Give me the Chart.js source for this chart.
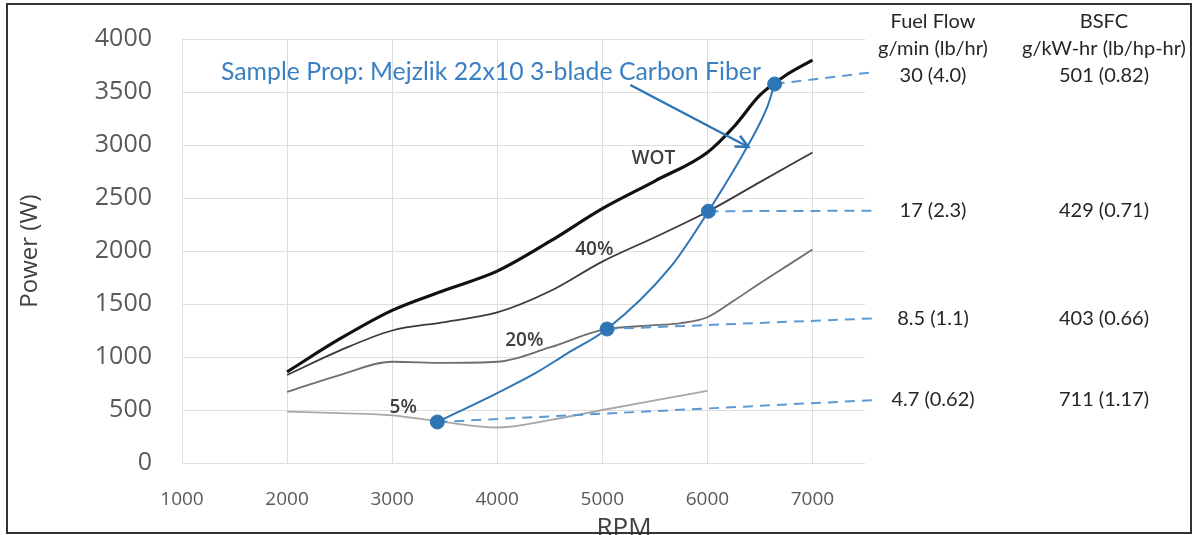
<!DOCTYPE html>
<html>
<head>
<meta charset="utf-8">
<script src="https://cdn.jsdelivr.net/npm/chart.js@4.4.0/dist/chart.umd.min.js"></script>
<style>
  html, body { margin: 0; padding: 0; background: #fff; }
  #wrap { position: relative; width: 1196px; height: 535px; }
</style>
</head>
<body>
<div id="wrap"><canvas id="powerChart" width="1196" height="535"></canvas></div>
<script>
  // throttle curves, power (W) vs RPM
  const loadRpm = [2000, 2500, 3000, 3500, 4000, 4500, 5000, 5500, 6000, 6500, 7000];
  const wotRpm = [2000, 2500, 3000, 3500, 4000, 4500, 5000, 5500, 6000, 6250, 6500, 6750, 7000];
  const wotPower = [860, 1170, 1440, 1630, 1810, 2090, 2400, 2660, 2930, 3170, 3470, 3660, 3800];
  const pct40Power = [830, 1060, 1250, 1330, 1420, 1620, 1900, 2130, 2370, 2650, 2930];
  const pct20Rpm = [2000, 2500, 3000, 3500, 4000, 4500, 5000, 5500, 5750, 6000, 6250, 6500, 6750, 7000];
  const pct20Power = [670, 830, 955, 945, 955, 1090, 1255, 1300, 1320, 1375, 1530, 1695, 1855, 2015];
  const pct5Rpm = [2000, 2500, 3000, 3500, 4000, 4500, 5000, 5500, 6000];
  const pct5Power = [485, 470, 450, 385, 335, 405, 500, 590, 680];

  // prop load line
  const propRpm = [3430, 4000, 4350, 4660, 5045, 5650, 6010, 6380, 6570, 6640];
  const propPower = [387, 660, 840, 1030, 1264, 1850, 2375, 2985, 3360, 3575];

  // operating points + table on the right
  const opRpm = [6640, 6010, 5045, 3430];
  const opPower = [3575, 2375, 1264, 387];
  const leaderEndRpm = 7600;
  const leaderEndPower = [3690, 2380, 1365, 594];
  const fuelFlow = ['30 (4.0)', '17 (2.3)', '8.5 (1.1)', '4.7 (0.62)'];
  const bsfc = ['501 (0.82)', '429 (0.71)', '403 (0.66)', '711 (1.17)'];

  const xTickValues = [1000, 2000, 3000, 4000, 5000, 6000, 7000];
  const curveNames = ['WOT', '40%', '20%', '5%'];
  const curveNameAt = [[5486, 2868], [4924, 2009], [4257, 1151], [3105, 519]];
  const propTitle = 'Sample Prop: Mejzlik 22x10 3-blade Carbon Fiber';
  const propArrow = [[5267, 3566], [6390, 2981]];

  const BLUE = '#2e75b6';
  const LIGHT_BLUE = '#5b9bd5';
  const TEXT = '#404040';

  const pts = (xs, ys) => ys.map((v, i) => ({ x: xs[i], y: v }));

  function curve(data, color, width) {
    return {
      data,
      showLine: true,
      borderColor: color,
      borderWidth: width,
      pointRadius: 0,
      cubicInterpolationMode: 'monotone',
      order: 3
    };
  }

  const datasets = [
    {
      data: pts(opRpm, opPower),
      backgroundColor: BLUE,
      borderColor: BLUE,
      pointRadius: 7,
      showLine: false,
      order: 0
    },
    curve(pts(propRpm, propPower), BLUE, 2),
    curve(pts(wotRpm, wotPower), '#111111', 3.2),
    curve(pts(loadRpm, pct40Power), '#3a3a3a', 1.8),
    curve(pts(pct20Rpm, pct20Power), '#6e6e6e', 1.8),
    curve(pts(pct5Rpm, pct5Power), '#a8a8a8', 1.8),
    {
      data: propArrow.map(p => ({ x: p[0], y: p[1] })),
      showLine: true,
      borderColor: BLUE,
      borderWidth: 2.5,
      pointRadius: 0,
      order: 1
    }
  ];

  opRpm.forEach((r, i) => {
    datasets.push({
      data: [{ x: r, y: opPower[i] }, { x: leaderEndRpm, y: leaderEndPower[i] }],
      showLine: true,
      borderColor: LIGHT_BLUE,
      borderWidth: 2,
      borderDash: [10, 7],
      pointRadius: 0,
      clip: false,
      order: 2
    });
  });

  const overlay = {
    id: 'overlay',
    afterDatasetsDraw(chart) {
      const { ctx, chartArea } = chart;
      const xs = chart.scales.x, ys = chart.scales.y;
      ctx.save();

      // curve names
      ctx.fillStyle = TEXT;
      ctx.font = '600 19px "Open Sans"';
      ctx.textAlign = 'center';
      ctx.textBaseline = 'middle';
      curveNames.forEach((t, i) => {
        ctx.fillText(t, xs.getPixelForValue(curveNameAt[i][0]), ys.getPixelForValue(curveNameAt[i][1]));
      });

      // prop title + arrow head
      ctx.fillStyle = '#3a80c2';
      ctx.font = '25px Lato';
      ctx.textAlign = 'left';
      ctx.fillText(propTitle, 221, ys.getPixelForValue(3690), 540);

      const ax0 = xs.getPixelForValue(propArrow[0][0]), ay0 = ys.getPixelForValue(propArrow[0][1]);
      const ax1 = xs.getPixelForValue(propArrow[1][0]), ay1 = ys.getPixelForValue(propArrow[1][1]);
      const ang = Math.atan2(ay1 - ay0, ax1 - ax0);
      ctx.strokeStyle = BLUE;
      ctx.lineWidth = 2.5;
      ctx.beginPath();
      ctx.moveTo(ax1 - 14 * Math.cos(ang - 0.45), ay1 - 14 * Math.sin(ang - 0.45));
      ctx.lineTo(ax1, ay1);
      ctx.lineTo(ax1 - 14 * Math.cos(ang + 0.45), ay1 - 14 * Math.sin(ang + 0.45));
      ctx.stroke();

      // table on the right
      const c1 = chartArea.right + 68, c2 = chartArea.right + 239;
      ctx.fillStyle = '#262626';
      ctx.textAlign = 'center';
      ctx.font = '20px Lato';
      ctx.fillText('Fuel Flow', c1, 22);
      ctx.fillText('g/min (lb/hr)', c1, 49);
      ctx.fillText('BSFC', c2, 22);
      ctx.fillText('g/kW-hr (lb/hp-hr)', c2, 49);
      fuelFlow.forEach((t, i) => {
        const yy = ys.getPixelForValue(leaderEndPower[i]) + (i === 0 ? 4 : 0);
        ctx.fillText(t, c1, yy);
        ctx.fillText(bsfc[i], c2, yy);
      });

      // x axis title
      ctx.fillStyle = '#404040';
      ctx.font = '26px "Open Sans"';
      ctx.textBaseline = 'alphabetic';
      ctx.fillText('RPM', 624, 536);
      ctx.restore();
    },
    afterDraw(chart) {
      const { ctx } = chart;
      ctx.save();
      ctx.strokeStyle = '#333';
      ctx.lineWidth = 2;
      ctx.strokeRect(7, 4, 1184, 529);
      ctx.restore();
    }
  };

  const ctx = document.getElementById('powerChart').getContext('2d');
  new Chart(ctx, {
    type: 'scatter',
    data: { datasets },
    options: {
      responsive: false,
      animation: false,
      layout: { padding: { top: 39, right: 331, left: 0, bottom: 0 } },
      plugins: { legend: { display: false }, tooltip: { enabled: false } },
      scales: {
        x: {
          type: 'linear',
          min: 1000,
          max: 7500,
          afterBuildTicks: s => { s.ticks = xTickValues.map(v => ({ value: v })); },
          afterFit: s => { s.height = 72; s.paddingLeft = 0; s.paddingRight = 0; },
          ticks: { color: '#595959', font: { family: 'Open Sans', size: 19 }, padding: 25, callback: v => String(v) },
          grid: { color: '#dedede', drawTicks: false },
          border: { display: false }
        },
        y: {
          min: 0,
          max: 4000,
          ticks: { stepSize: 500, color: '#595959', font: { family: 'Open Sans', size: 25 }, padding: 30, callback: v => String(v) },
          afterFit: s => { s.width = 182; s.paddingTop = 0; s.paddingBottom = 0; },
          grid: { color: '#dedede', drawTicks: false },
          border: { display: false },
          title: {
            display: true,
            text: 'Power (W)',
            color: '#404040',
            font: { family: 'Open Sans', size: 24 },
            padding: 16
          }
        }
      }
    },
    plugins: [overlay]
  });
</script>
</body>
</html>
